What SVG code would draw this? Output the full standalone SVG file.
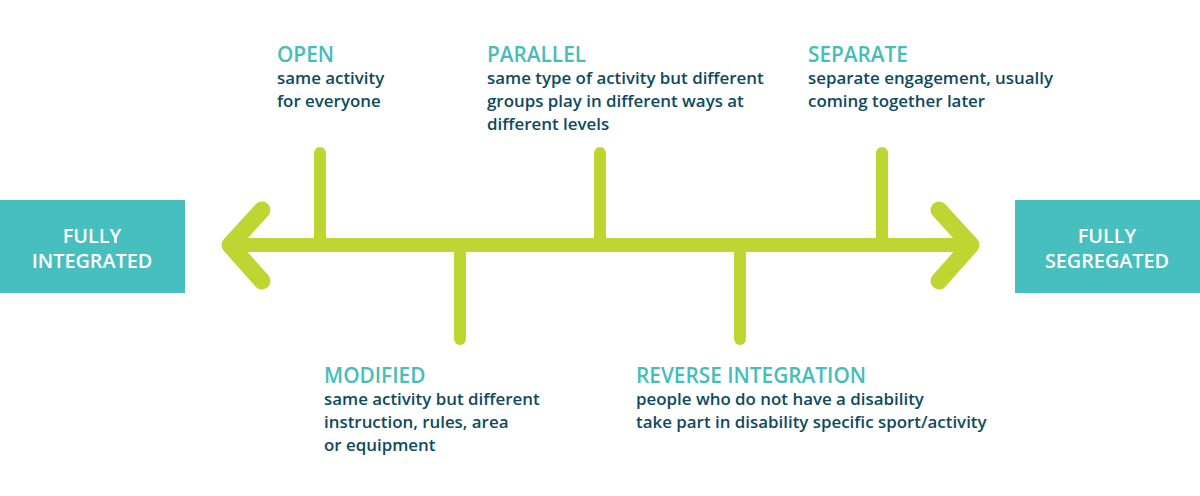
<svg xmlns="http://www.w3.org/2000/svg" width="1200" height="496" viewBox="0 0 1200 496">
<style>
.box{fill:#47BFBF}
.bt{font-family:"Open Sans","Liberation Sans",sans-serif;font-weight:600;font-size:19.8px;fill:#ffffff;text-anchor:middle}
.h{font-family:"Open Sans","Liberation Sans",sans-serif;font-weight:600;font-size:20.8px;fill:#45BDBA}
.b{font-family:"Open Sans","Liberation Sans",sans-serif;font-weight:600;font-size:16.9px;fill:#0D4A60}
.ln{stroke:#BDD632;fill:none;stroke-linecap:round;stroke-linejoin:round}
</style>
<rect width="1200" height="496" fill="#ffffff"/>
<g id="connectors">
<line class="ln" x1="232" y1="245" x2="970" y2="245" stroke-width="14"/>
<polyline class="ln" points="262,210 230,245 262,281" stroke-width="17"/>
<polyline class="ln" points="939,210 971,245 939,281" stroke-width="17"/>
<line class="ln" x1="320" y1="153" x2="320" y2="245" stroke-width="12"/>
<line class="ln" x1="600" y1="153" x2="600" y2="245" stroke-width="12"/>
<line class="ln" x1="882" y1="153" x2="882" y2="245" stroke-width="12"/>
<line class="ln" x1="460" y1="245" x2="460" y2="339" stroke-width="12"/>
<line class="ln" x1="740" y1="245" x2="740" y2="339" stroke-width="12"/>
</g>
<g id="fully-integrated">
<rect class="box" x="0" y="200" width="185" height="93"/>
<text class="bt" x="92" y="243">FULLY</text>
<text class="bt" x="92" y="268">INTEGRATED</text>
</g>
<g id="fully-segregated">
<rect class="box" x="1015" y="200" width="185" height="93"/>
<text class="bt" x="1107" y="243">FULLY</text>
<text class="bt" x="1107" y="268">SEGREGATED</text>
</g>
<g id="open">
<text class="h" x="277" y="62">OPEN</text>
<text class="b" x="277" y="84">same activity</text>
<text class="b" x="277" y="107">for everyone</text>
</g>
<g id="parallel">
<text class="h" x="487" y="62">PARALLEL</text>
<text class="b" x="487" y="84">same type of activity but different</text>
<text class="b" x="487" y="107">groups play in different ways at</text>
<text class="b" x="487" y="130">different levels</text>
</g>
<g id="separate">
<text class="h" x="808" y="62">SEPARATE</text>
<text class="b" x="808" y="84">separate engagement, usually</text>
<text class="b" x="808" y="107">coming together later</text>
</g>
<g id="modified">
<text class="h" x="324" y="383">MODIFIED</text>
<text class="b" x="324" y="405">same activity but different</text>
<text class="b" x="324" y="428">instruction, rules, area</text>
<text class="b" x="324" y="451">or equipment</text>
</g>
<g id="reverse-integration">
<text class="h" x="636" y="383">REVERSE INTEGRATION</text>
<text class="b" x="636" y="405">people who do not have a disability</text>
<text class="b" x="636" y="428">take part in disability specific sport/activity</text>
</g>
</svg>
